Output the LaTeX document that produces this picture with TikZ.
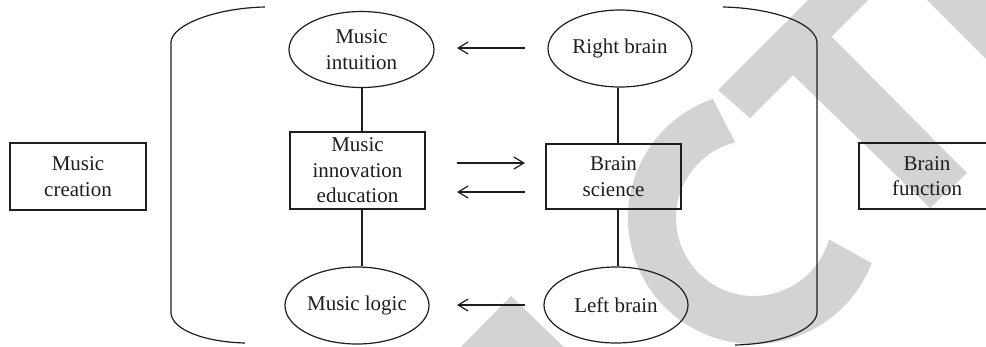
\documentclass[tikz,border=0pt]{standalone}
\usepackage{fontspec}
\setmainfont{Liberation Serif}
\usetikzlibrary{shapes.geometric,arrows.meta}
\definecolor{wm}{RGB}{211,211,211}
\definecolor{ln}{RGB}{30,30,30}
\begin{document}
\begin{tikzpicture}[x=1pt,y=-1pt,
  every node/.style={font=\fontsize{21}{25.5}\selectfont, align=center, inner sep=0pt, text=ln},
  boxnode/.style={draw=ln, line width=1.2pt, rectangle},
  ellnode/.style={draw=ln, line width=1.2pt, ellipse},
  link/.style={draw=ln, line width=1.2pt},
  arr/.style={draw=ln, line width=1.2pt, -{Straight Barb[length=10pt,width=12pt]}},
  bracket/.style={draw=ln, line width=1.2pt}]
\clip (0,0) rectangle (986,346);
\fill[white] (0,0) rectangle (986,346);
% watermark
\fill[wm] (754,218) ++(-109:126) arc[start angle=-109,end angle=-339,radius=126]
  -- ([shift={(754,218)}]-344:78) arc[start angle=-344,end angle=-104,radius=78] -- cycle;
\fill[wm] (808,0) -- (868,0) -- (831.5,36.5) -- (967,173) -- (930,208) -- (793,75) -- (750,118) -- (718,90) -- cycle;
\fill[wm] (927,0) -- (992,0) -- (992,65) -- cycle;
\fill[wm] (455,353) -- (511,296) -- (570,353) -- cycle;
% nodes
\node[boxnode, minimum width=136pt, minimum height=67pt] (mc) at (78,176.5) {Music\\creation};
\node[boxnode, minimum width=136pt, minimum height=66pt] (bf) at (927,176) {Brain\\function};
\node[boxnode, minimum width=135pt, minimum height=77pt] (mie) at (357.5,170.5) {Music\\innovation\\education};
\node[boxnode, minimum width=135pt, minimum height=65pt] (bs) at (613.5,176.5) {Brain\\science};
\node[ellnode, minimum width=145pt, minimum height=76pt] (mi) at (361.5,49.5) {Music\\intuition};
\node[ellnode, minimum width=144pt, minimum height=77pt] (rb) at (620,48.5) {Right brain};
\node[ellnode, minimum width=144pt, minimum height=77pt] (ml) at (357,305.5) {Music logic};
\node[ellnode, minimum width=144pt, minimum height=76pt] (lb) at (616,305) {Left brain};
% connectors
\coordinate (lx) at (362,0);
\coordinate (rx) at (618,0);
\draw[link] (lx |- mi.south) -- (lx |- mie.north);
\draw[link] (lx |- mie.south) -- (lx |- ml.north);
\draw[link] (rx |- rb.south) -- (rx |- bs.north);
\draw[link] (rx |- bs.south) -- (rx |- lb.north);
% arrows
\coordinate (a1s) at (525,48);  \coordinate (a1e) at (457,48);
\coordinate (a2s) at (457,163); \coordinate (a2e) at (525,163);
\coordinate (a3s) at (525,192); \coordinate (a3e) at (457,192);
\coordinate (a4s) at (525,305); \coordinate (a4e) at (457,305);
\draw[arr] (a1s) -- (a1e);
\draw[arr] (a2s) -- (a2e);
\draw[arr] (a3s) -- (a3e);
\draw[arr] (a4s) -- (a4e);
% brackets
\draw[bracket] (265,7) .. controls (215,8) and (172,25) .. (171,42) -- (171,313) .. controls (172,330) and (205,342) .. (245,343);
\draw[bracket] (723,7) .. controls (770,8) and (815,22) .. (817,42) -- (817,313) .. controls (815,330) and (780,344) .. (735,345);
\end{tikzpicture}
\end{document}
